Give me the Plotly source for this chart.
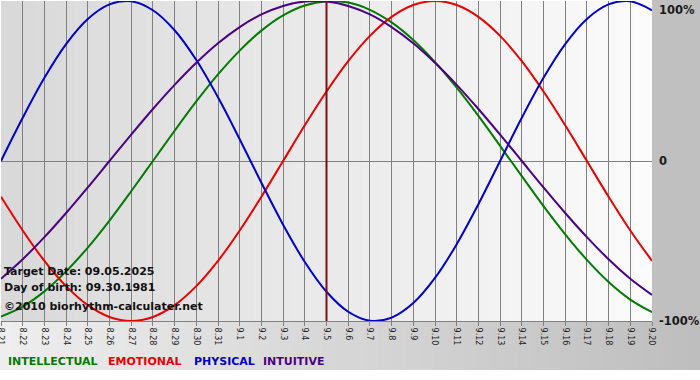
import plotly.graph_objects as go

# ---- data ----
day_labels = ["8.21", "8.22", "8.23", "8.24", "8.25", "8.26", "8.27", "8.28", "8.29", "8.30", "8.31",
              "9.1", "9.2", "9.3", "9.4", "9.5", "9.6", "9.7", "9.8", "9.9", "9.10",
              "9.11", "9.12", "9.13", "9.14", "9.15", "9.16", "9.17", "9.18", "9.19", "9.20"]

intellectual = [-0.972, -0.910, -0.815, -0.690, -0.541, -0.372, -0.189, 0.000, 0.189, 0.372, 0.541,
                0.690, 0.815, 0.910, 0.972, 0.999, 0.990, 0.945, 0.866, 0.756, 0.618,
                0.458, 0.282, 0.095, -0.095, -0.282, -0.458, -0.618, -0.756, -0.866, -0.945]

emotional = [-0.223, -0.434, -0.624, -0.782, -0.901, -0.975, -1.000, -0.975, -0.901, -0.782, -0.624,
             -0.434, -0.223, 0.000, 0.223, 0.434, 0.624, 0.782, 0.901, 0.975, 1.000,
             0.975, 0.901, 0.782, 0.624, 0.434, 0.223, 0.000, -0.223, -0.434, -0.624]

physical = [0.000, 0.270, 0.520, 0.731, 0.888, 0.979, 0.998, 0.942, 0.817, 0.631, 0.398,
            0.136, -0.136, -0.398, -0.631, -0.817, -0.942, -0.998, -0.979, -0.888, -0.731,
            -0.520, -0.270, 0.000, 0.270, 0.520, 0.731, 0.888, 0.979, 0.998, 0.942]

intuitive = [-0.736, -0.614, -0.476, -0.325, -0.165, 0.000, 0.165, 0.325, 0.476, 0.614, 0.736,
             0.837, 0.916, 0.969, 0.997, 0.997, 0.969, 0.916, 0.837, 0.736, 0.614,
             0.476, 0.325, 0.165, 0.000, -0.165, -0.325, -0.476, -0.614, -0.736, -0.837]

series_names = ["INTELLECTUAL", "EMOTIONAL", "PHYSICAL", "INTUITIVE"]
series_colors = ["#007a00", "#e60000", "#0000c8", "#4b0082"]
series_values = [intellectual, emotional, physical, intuitive]

target_day = "9.5"
y_tick_vals = [1, 0, -1]
y_tick_text = ["100%", "0", "-100%"]
info_lines = ["Target Date: 09.05.2025", "Day of birth: 09.30.1981", "©2010 biorhythm-calculater.net"]

# ---- layout geometry (pixels) ----
W, H = 700, 380
ML, MR, MT, MB = 1, 48, 1, 59
PW = W - ML - MR
PH = H - MT - MB
FONT = "DejaVu Sans, Verdana, sans-serif"


def px_x(px):
    return (px - ML) / PW


def px_y(py):
    return (H - MB - py) / PH


fig = go.Figure()

for name, color, vals in zip(series_names, series_colors, series_values):
    fig.add_trace(go.Scatter(x=day_labels, y=vals, mode="lines", name=name,
                             line=dict(color=color, width=2, shape="spline", smoothing=1),
                             hoverinfo="skip"))

shapes = []
# plot area gradient (left grey -> right near white)
n = 36
for k in range(n):
    g = int(round(0xd9 + (0xfb - 0xd9) * k / (n - 1)))
    c = f"rgb({g},{g},{g})"
    shapes.append(dict(type="rect", xref="paper", yref="paper", x0=k / n, x1=(k + 1) / n + 0.002,
                       y0=0, y1=1, fillcolor=c, line=dict(width=0), layer="below"))
# right panel
shapes.append(dict(type="rect", xref="paper", yref="paper", x0=1, x1=px_x(W + 2), y0=0, y1=px_y(-2),
                   fillcolor="#c0c0c0", line=dict(width=0), layer="below"))
# bottom band gradient (left light -> right darker)
m = 50
bx0, bx1 = px_x(-1), px_x(W + 1)
for k in range(m):
    g = int(round(0xee + (0xbe - 0xee) * k / (m - 1)))
    c = f"rgb({g},{g},{g})"
    shapes.append(dict(type="rect", xref="paper", yref="paper",
                       x0=bx0 + (bx1 - bx0) * k / m, x1=bx0 + (bx1 - bx0) * (k + 1) / m + 0.002,
                       y0=px_y(370), y1=0, fillcolor=c, line=dict(width=0), layer="below"))
# target date line
shapes.append(dict(type="line", xref="x", yref="paper", x0=day_labels.index(target_day),
                   x1=day_labels.index(target_day), y0=0, y1=1,
                   line=dict(color="#7a1010", width=2), layer="above"))

annotations = []
for v, t in zip(y_tick_vals, y_tick_text):
    annotations.append(dict(xref="paper", yref="y", x=1, y=v, xanchor="left",
                            yanchor="top" if v == 1 else "middle", xshift=5,
                            text=f"<b>{t}</b>", showarrow=False,
                            font=dict(family=FONT, size=11.5, color="#1a1a1a")))

for i, (t, py) in enumerate(zip(info_lines, [271, 287, 306])):
    annotations.append(dict(xref="paper", yref="paper", x=px_x(2), y=px_y(py), xanchor="left",
                            yanchor="middle", text=f"<b>{t}</b>", showarrow=False,
                            font=dict(family=FONT, size=11, color="#111111")))

for name, color, px in zip(series_names, series_colors, [6, 106, 192, 261]):
    annotations.append(dict(xref="paper", yref="paper", x=px_x(px), y=px_y(361), xanchor="left",
                            yanchor="middle", text=f"<b>{name}</b>", showarrow=False,
                            font=dict(family=FONT, size=11, color=color)))

fig.update_layout(
    width=W, height=H,
    margin=dict(l=ML, r=MR, t=MT, b=MB, pad=0, autoexpand=False),
    paper_bgcolor="white",
    plot_bgcolor="rgba(0,0,0,0)",
    showlegend=False,
    shapes=shapes,
    annotations=annotations,
    xaxis=dict(type="category", range=[0, len(day_labels) - 1], showgrid=True, automargin=False,
               gridcolor="#808080", gridwidth=1, ticks="outside", ticklen=4,
               tickcolor="#808080", tickangle=90, showline=True, linecolor="#808080",
               tickfont=dict(family=FONT, size=8, color="#222222"), zeroline=False),
    yaxis=dict(range=[-1, 1], showgrid=False, zeroline=True, zerolinecolor="#808080", automargin=False,
               zerolinewidth=1, showticklabels=False, ticks=""),
)

fig.write_html("out.html", config={"displayModeBar": False},
               post_script="document.body.style.margin='0';")
